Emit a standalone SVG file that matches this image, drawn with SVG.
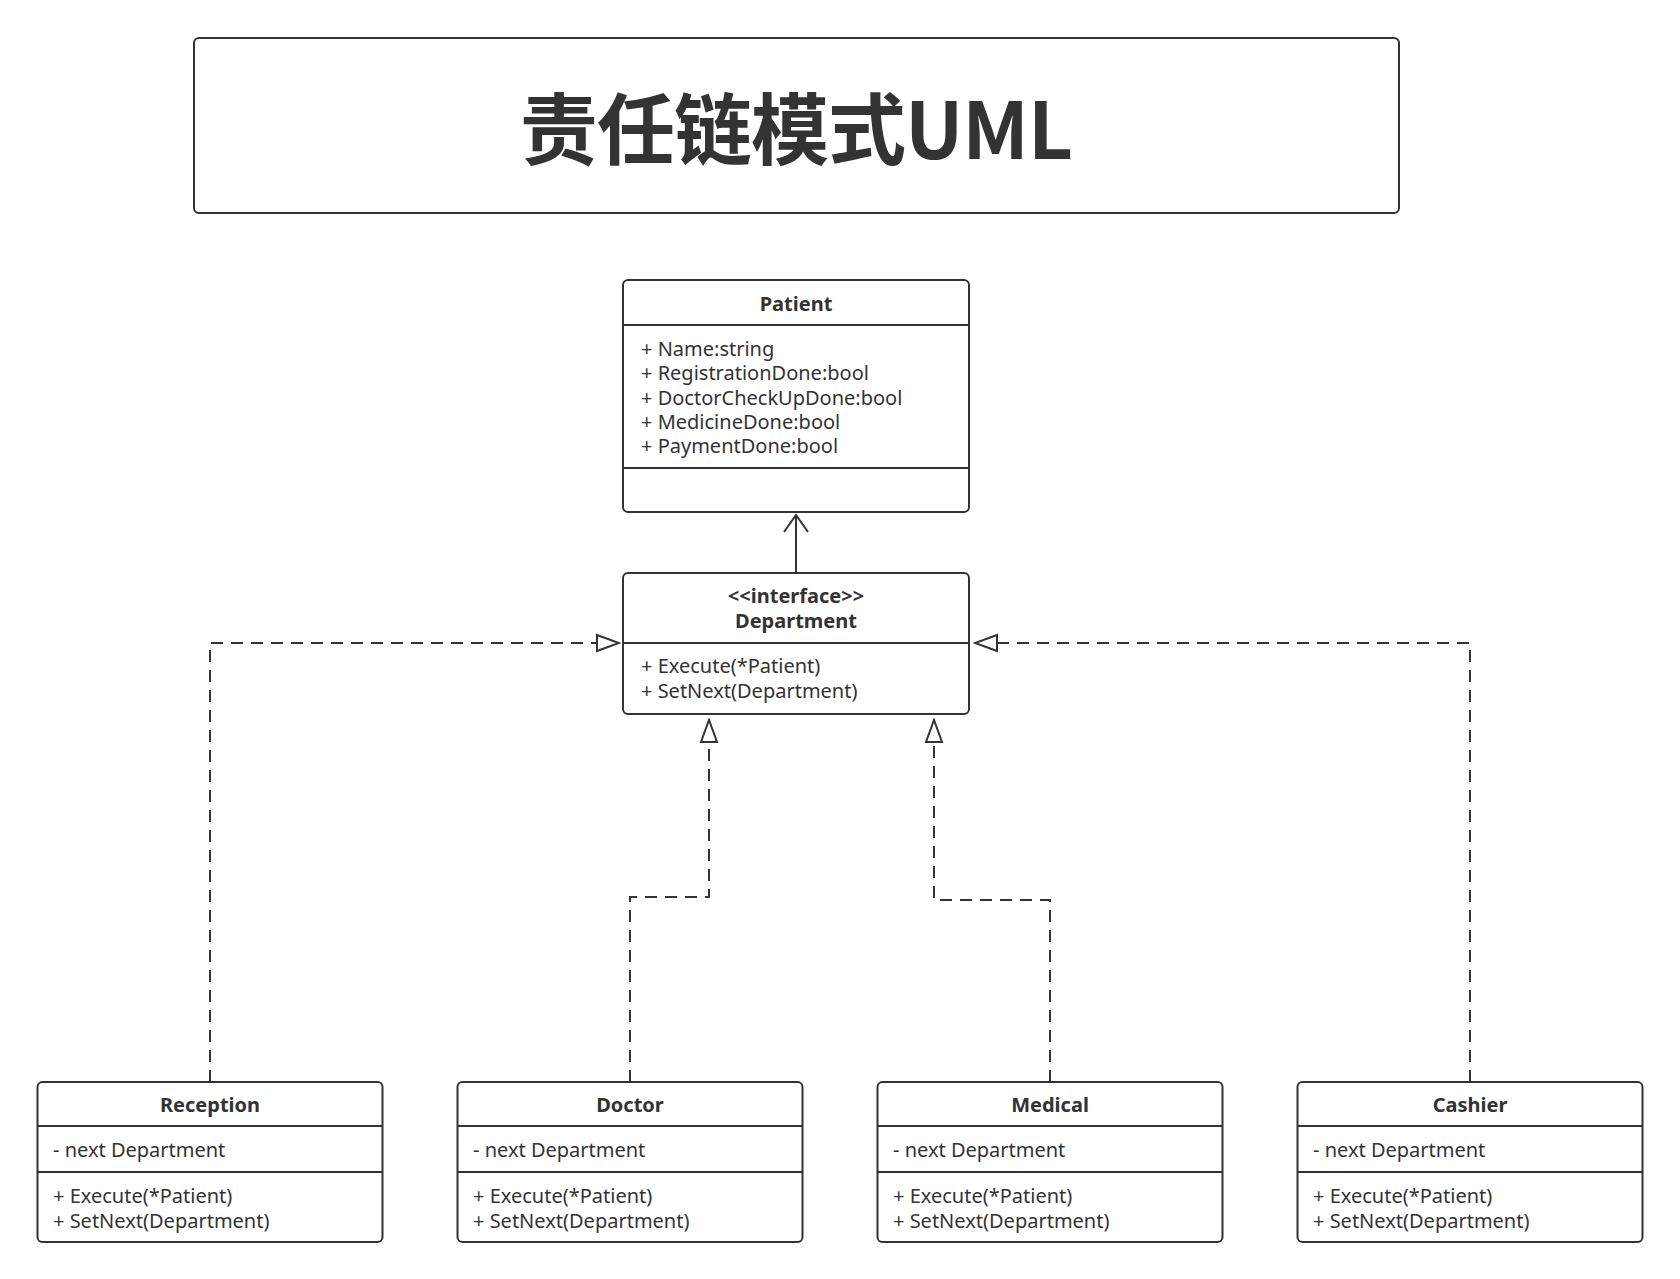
<svg xmlns="http://www.w3.org/2000/svg" width="1680" height="1279" viewBox="0 0 1680 1279">
<style>
.box{fill:#fff;stroke:#333;stroke-width:2}
.sep{stroke:#333;stroke-width:2}
.t{font-family:"Noto Sans","Liberation Sans",sans-serif;font-size:20px;fill:#333}
.h{font-family:"Noto Sans","Liberation Sans",sans-serif;font-size:20px;font-weight:bold;fill:#333;text-anchor:middle}
.title{font-family:"Noto Sans CJK SC","Noto Sans",sans-serif;font-size:78px;font-weight:bold;fill:#333;text-anchor:middle}
.dash{fill:none;stroke:#333;stroke-width:2;stroke-dasharray:12 8}
.solid{fill:none;stroke:#333;stroke-width:2}
</style>
<defs>
<marker id="tri" markerUnits="userSpaceOnUse" markerWidth="26" markerHeight="20" viewBox="-2 -2 26 20" refX="22" refY="8" orient="auto">
<path d="M0,0 L22,8 L0,16 Z" fill="#fff" stroke="#333" stroke-width="2"/>
</marker>
<marker id="open" markerUnits="userSpaceOnUse" markerWidth="26" markerHeight="28" viewBox="-2 -2 26 28" refX="17" refY="12" orient="auto">
<path d="M0,0 L17,12 L0,24" fill="none" stroke="#333" stroke-width="2"/>
</marker>
</defs>
<rect width="1680" height="1279" fill="#fff"/>
<g id="title">
<rect class="box" x="194" y="38" width="1205" height="175" rx="5"/>
<text class="title" x="796" y="159" letter-spacing="-1">责任链模式UML</text>
</g>
<g id="connectors">
<path class="solid" d="M796,572 V515" marker-end="url(#open)"/>
<path class="dash" d="M210,1082 V643 H619" marker-end="url(#tri)"/>
<path class="dash" d="M1470,1082 V643 H975" marker-end="url(#tri)"/>
<path class="dash" d="M630,1082 V897 H709 V720" marker-end="url(#tri)"/>
<path class="dash" d="M1050,1082 V900 H934 V720" marker-end="url(#tri)"/>
</g>
<g id="patient">
<rect class="box" x="623" y="280" width="346" height="232" rx="5"/>
<line class="sep" x1="623" y1="325" x2="969" y2="325"/>
<line class="sep" x1="623" y1="468" x2="969" y2="468"/>
<text class="h" x="796" y="311">Patient</text>
<text class="t" x="641" y="356">+ Name:string</text>
<text class="t" x="641" y="380">+ RegistrationDone:bool</text>
<text class="t" x="641" y="405">+ DoctorCheckUpDone:bool</text>
<text class="t" x="641" y="429">+ MedicineDone:bool</text>
<text class="t" x="641" y="453">+ PaymentDone:bool</text>
</g>
<g id="department">
<rect class="box" x="623" y="573" width="346" height="141" rx="5"/>
<line class="sep" x1="623" y1="643" x2="969" y2="643"/>
<text class="h" x="796" y="603">&lt;&lt;interface&gt;&gt;</text>
<text class="h" x="796" y="628">Department</text>
<text class="t" x="641" y="673">+ Execute(*Patient)</text>
<text class="t" x="641" y="698">+ SetNext(Department)</text>
</g>
<g id="reception">
<rect class="box" x="37.5" y="1082" width="345" height="160" rx="5"/>
<line class="sep" x1="37.5" y1="1126" x2="382.5" y2="1126"/>
<line class="sep" x1="37.5" y1="1172" x2="382.5" y2="1172"/>
<text class="h" x="210" y="1112">Reception</text>
<text class="t" x="53" y="1157">- next Department</text>
<text class="t" x="53" y="1203">+ Execute(*Patient)</text>
<text class="t" x="53" y="1228">+ SetNext(Department)</text>
</g>
<g id="doctor">
<rect class="box" x="457.5" y="1082" width="345" height="160" rx="5"/>
<line class="sep" x1="457.5" y1="1126" x2="802.5" y2="1126"/>
<line class="sep" x1="457.5" y1="1172" x2="802.5" y2="1172"/>
<text class="h" x="630" y="1112">Doctor</text>
<text class="t" x="473" y="1157">- next Department</text>
<text class="t" x="473" y="1203">+ Execute(*Patient)</text>
<text class="t" x="473" y="1228">+ SetNext(Department)</text>
</g>
<g id="medical">
<rect class="box" x="877.5" y="1082" width="345" height="160" rx="5"/>
<line class="sep" x1="877.5" y1="1126" x2="1222.5" y2="1126"/>
<line class="sep" x1="877.5" y1="1172" x2="1222.5" y2="1172"/>
<text class="h" x="1050" y="1112">Medical</text>
<text class="t" x="893" y="1157">- next Department</text>
<text class="t" x="893" y="1203">+ Execute(*Patient)</text>
<text class="t" x="893" y="1228">+ SetNext(Department)</text>
</g>
<g id="cashier">
<rect class="box" x="1297.5" y="1082" width="345" height="160" rx="5"/>
<line class="sep" x1="1297.5" y1="1126" x2="1642.5" y2="1126"/>
<line class="sep" x1="1297.5" y1="1172" x2="1642.5" y2="1172"/>
<text class="h" x="1470" y="1112">Cashier</text>
<text class="t" x="1313" y="1157">- next Department</text>
<text class="t" x="1313" y="1203">+ Execute(*Patient)</text>
<text class="t" x="1313" y="1228">+ SetNext(Department)</text>
</g>
</svg>
